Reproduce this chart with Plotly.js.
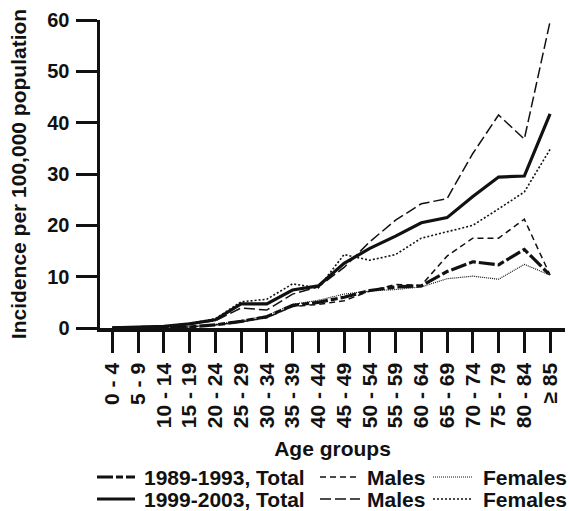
<!DOCTYPE html>
<html>
<head>
<meta charset="utf-8">
<script src="https://cdn.plot.ly/plotly-3.0.1.min.js"></script>
<style>
  html, body { margin: 0; padding: 0; background: #fff; }
  #chart { width: 570px; height: 511px; }
</style>
</head>
<body>
<div id="chart"></div>
<script>
const ageGroups = ['0 - 4','5 - 9','10 - 14','15 - 19','20 - 24','25 - 29','30 - 34','35 - 39','40 - 44','45 - 49','50 - 54','55 - 59','60 - 64','65 - 69','70 - 74','75 - 79','80 - 84','\u2265 85'];

const total1989   = [0.05,0.05,0.1,0.2,0.6,1.3,2.2,4.4,5.0,6.0,7.3,8.0,8.2,11.0,12.9,12.3,15.3,10.3];
const males1989   = [0.05,0.05,0.1,0.2,0.6,1.2,2.0,4.2,4.6,5.3,7.2,8.5,8.3,14.0,17.5,17.5,21.2,10.3];
const females1989 = [0.05,0.05,0.1,0.2,0.7,1.4,2.4,4.6,5.4,6.6,7.2,7.5,8.0,9.6,10.1,9.5,12.4,10.3];

const total1999   = [0.05,0.1,0.3,0.8,1.6,4.7,4.7,7.4,8.2,12.6,15.5,17.9,20.5,21.5,25.6,29.4,29.6,41.7];
const males1999   = [0.05,0.1,0.3,0.8,1.4,3.9,3.5,6.6,8.0,11.8,16.8,21.0,24.2,25.2,34.0,41.5,36.8,59.7];
const females1999 = [0.05,0.1,0.3,0.9,1.8,5.1,5.6,8.6,7.8,14.3,13.2,14.3,17.5,18.8,20.0,23.2,26.5,34.8];

const yTicks = [0,10,20,30,40,50,60];

const legendRows = [
  [{label: '1989-1993, Total', dash: '16px,3px,7px,3px', width: 3.2},
   {label: 'Males', dash: '6px,4px', width: 1.5},
   {label: 'Females', dash: '1px,1px', width: 1.2}],
  [{label: '1999-2003, Total', dash: 'solid', width: 3.2},
   {label: 'Males', dash: '11px,4px', width: 1.5},
   {label: 'Females', dash: '2px,2px', width: 1.6}]
];

const FONT = 'Liberation Sans, Arial, sans-serif';
const INK = '#111';

function tr(name, y, style) {
  return {
    type: 'scatter', mode: 'lines', x: ageGroups, y: y, name: name,
    line: {color: INK, width: style.width, dash: style.dash},
    hoverinfo: 'skip', showlegend: false
  };
}

const data = [
  tr('1989-1993, Total', total1989, legendRows[0][0]),
  tr('1989-1993, Males', males1989, legendRows[0][1]),
  tr('1989-1993, Females', females1989, legendRows[0][2]),
  tr('1999-2003, Total', total1999, legendRows[1][0]),
  tr('1999-2003, Males', males1999, legendRows[1][1]),
  tr('1999-2003, Females', females1999, legendRows[1][2])
];

// legend geometry (pixels) converted to paper coords
const PL = 100, PW = 465, PB = 328, PH = 308;
const px2x = p => (p - PL) / PW;
const px2y = p => (PB - p) / PH;
const rowY = [477, 499];
const colSample = [[97, 135], [320, 360], [433, 473]];
const colText = [143, 366, 482];

const shapes = [];
const annotations = [];
legendRows.forEach((row, r) => {
  row.forEach((it, c) => {
    shapes.push({
      type: 'line', xref: 'paper', yref: 'paper',
      x0: px2x(colSample[c][0]), x1: px2x(colSample[c][1]),
      y0: px2y(rowY[r]), y1: px2y(rowY[r]),
      line: {color: INK, width: it.width, dash: it.dash}
    });
    annotations.push({
      xref: 'paper', yref: 'paper',
      x: px2x(colText[c]), y: px2y(rowY[r]),
      xanchor: 'left', yanchor: 'middle', showarrow: false,
      text: it.label, borderpad: 0,
      font: {family: FONT, size: 21, color: INK, weight: 'bold'}
    });
  });
});

const layout = {
  width: 570, height: 511,
  margin: {l: 100, r: 5, t: 20, b: 183, pad: 0},
  paper_bgcolor: '#fff', plot_bgcolor: '#fff',
  font: {family: FONT, color: INK, weight: 'bold'},
  showlegend: false,
  xaxis: {
    type: 'category',
    range: [-0.478, 17.58],
    automargin: false,
    tickmode: 'array', tickvals: ageGroups, ticktext: ageGroups,
    showgrid: false, zeroline: false,
    showline: true, linecolor: INK, linewidth: 3.5,
    ticks: 'outside', ticklen: 21, tickwidth: 3, tickcolor: INK,
    tickangle: -90,
    ticklabelstandoff: 2,
    tickfont: {family: FONT, size: 21, color: INK, weight: 'bold'},
    title: {text: 'Age groups', font: {family: FONT, size: 21, color: INK, weight: 'bold'}, standoff: 15},
    fixedrange: true
  },
  yaxis: {
    range: [0, 60],
    tickvals: yTicks,
    automargin: false,
    showgrid: false, zeroline: false,
    showline: true, linecolor: INK, linewidth: 3.5,
    ticks: 'outside', ticklen: 21, tickwidth: 3, tickcolor: INK,
    tickfont: {family: FONT, size: 20, color: INK, weight: 'bold'},
    ticklabelstandoff: 2,
    title: {text: 'Incidence per 100,000 population', font: {family: FONT, size: 21, color: INK, weight: 'bold'}, standoff: 16},
    fixedrange: true
  },
  shapes: shapes,
  annotations: annotations
};

Plotly.newPlot('chart', data, layout, {displayModeBar: false, staticPlot: true});
</script>
</body>
</html>
